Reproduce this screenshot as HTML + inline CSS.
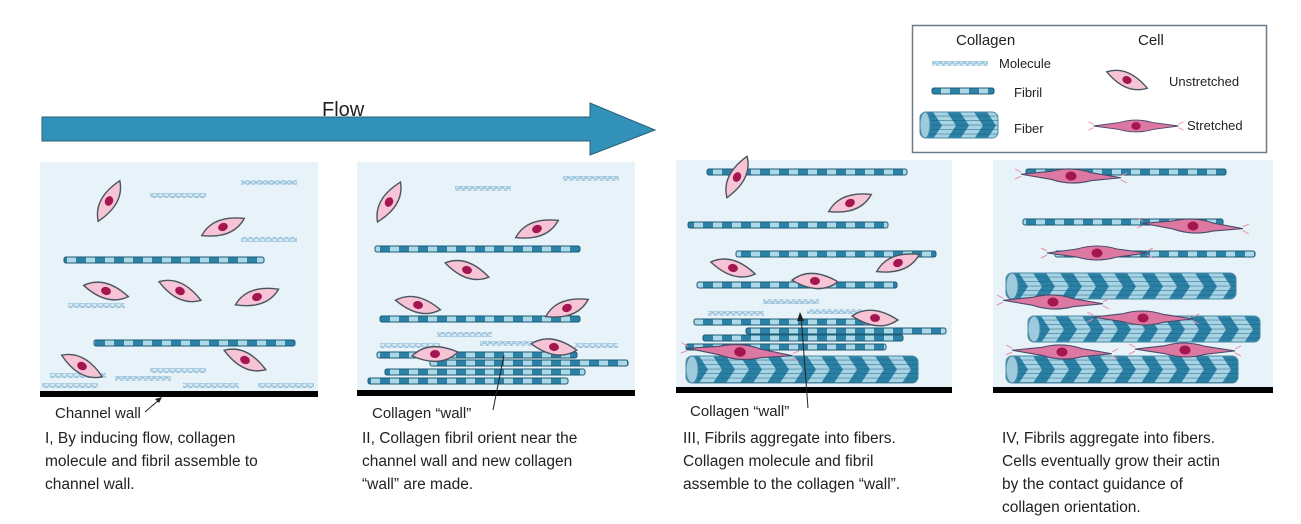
<!DOCTYPE html>
<html><head><meta charset="utf-8"><style>
html,body{margin:0;padding:0;background:#fff}
svg{display:block}
text{font-family:"Liberation Sans",Arial,sans-serif;fill:#222}
</style></head><body>
<svg width="1301" height="524" viewBox="0 0 1301 524" xmlns="http://www.w3.org/2000/svg">
<defs>
<pattern id="fib" patternUnits="userSpaceOnUse" width="19" height="10">
<rect x="0" y="0" width="10" height="10" fill="#2b82a6"/><rect x="10" y="0" width="9" height="10" fill="#acd8e8"/>
</pattern>
<pattern id="mol" patternUnits="userSpaceOnUse" width="6" height="5">
<rect width="6" height="5" fill="#d6e9f3"/>
<path d="M0,1.5 Q1.5,0 3,1.5 T6,1.5 M0,3.5 Q1.5,5 3,3.5 T6,3.5" stroke="#8ab9d6" stroke-width="0.9" fill="none"/>
</pattern>
<pattern id="fibp" patternUnits="userSpaceOnUse" width="27" height="27">
<rect width="27" height="27" fill="#a8d5e6"/>
<polygon points="0,0 13,0 22,13.5 13,27 0,27 9,13.5" fill="#2a80a5"/>
</pattern>
<pattern id="fibl" patternUnits="userSpaceOnUse" width="10" height="4.5">
<rect y="3.6" width="10" height="0.9" fill="#1e5f7c" opacity="0.55"/>
</pattern>
<symbol id="cell" overflow="visible">
<path d="M-23,0 Q-5,-15 23,0 Q5,15 -23,0Z" fill="#f7c4d6" stroke="#4b5560" stroke-width="1.4"/>
<ellipse cx="0" cy="0" rx="5" ry="4" fill="#a3164f"/>
</symbol>
<symbol id="scell" overflow="visible">
<path d="M-50,-2 L-56,-5 M-50,2 L-56,5 M50,-2 L56,-5 M50,2 L56,5" stroke="#e88fb0" stroke-width="1"/>
<path d="M-50,0 L-20,-4 Q0,-10 20,-4 L50,0 L20,4 Q0,10 -20,4 Z" fill="#dc78a2" stroke="#4a4a6a" stroke-width="1.1"/>
<ellipse cx="0" cy="0" rx="5.5" ry="4.5" fill="#a3164f"/>
</symbol>
</defs>

<!-- legend -->
<rect x="912.5" y="25.5" width="354" height="127" fill="#fff" stroke="#6c7d88" stroke-width="1.5"/>
<text x="956" y="45" font-size="15">Collagen</text>
<text x="1138" y="45" font-size="15">Cell</text>
<rect x="932" y="61" width="56" height="5" fill="url(#mol)"/>
<text x="999" y="68" font-size="13">Molecule</text>
<rect x="932" y="88" width="62" height="6" fill="url(#fib)" stroke="#1d5a74" stroke-width="1" rx="2"/>
<text x="1014" y="97" font-size="13">Fibril</text>
<g transform="translate(920,112)"><rect width="78" height="26" rx="6" fill="url(#fibp)" stroke="#4a8aa5"/><rect width="78" height="26" rx="6" fill="url(#fibl)"/><ellipse cx="5" cy="13" rx="5" ry="13" fill="#9dcadc" stroke="#4a8aa5"/></g>
<text x="1014" y="133" font-size="13">Fiber</text>
<use href="#cell" transform="translate(1127,80) rotate(22) scale(0.95)"/>
<text x="1169" y="86" font-size="13">Unstretched</text>
<use href="#scell" transform="translate(1136,126) scale(0.85)"/>
<text x="1187" y="130" font-size="13">Stretched</text>

<!-- flow arrow -->
<text x="322" y="116" font-size="20">Flow</text>
<path d="M42,117 L590,117 L590,103 L655,130 L590,155 L590,141 L42,141 Z" fill="#3191b8" stroke="#2a5f78" stroke-width="1"/>

<!-- panels backgrounds -->
<rect x="40" y="162" width="278" height="230" fill="#e7f3f8"/>
<rect x="357" y="162" width="278" height="230" fill="#e7f3f8"/>
<rect x="676" y="160" width="276" height="232" fill="#e7f3f8"/>
<rect x="993" y="160" width="280" height="232" fill="#e7f3f8"/>
<rect x="40" y="391" width="278" height="6" fill="#000"/>
<rect x="357" y="390" width="278" height="6" fill="#000"/>
<rect x="676" y="387" width="276" height="6" fill="#000"/>
<rect x="993" y="387" width="280" height="6" fill="#000"/>

<!-- panel I -->
<g fill="url(#mol)">
<rect x="241" y="180" width="56" height="5"/><rect x="150" y="193" width="56" height="5"/><rect x="241" y="237" width="56" height="5"/>
<rect x="68" y="303" width="57" height="5"/><rect x="50" y="373" width="56" height="5"/><rect x="115" y="376" width="56" height="5"/>
<rect x="150" y="368" width="56" height="5"/><rect x="42" y="383" width="56" height="5"/><rect x="183" y="383" width="56" height="5"/><rect x="258" y="383" width="56" height="5"/>
</g>
<g fill="url(#fib)" stroke="#1d5a74" stroke-width="1">
<rect x="64" y="257" width="200" height="6" rx="2"/><rect x="94" y="340" width="201" height="6" rx="2"/>
</g>
<use href="#cell" transform="translate(109,201) rotate(-62)"/>
<use href="#cell" transform="translate(223,227) rotate(-22)"/>
<use href="#cell" transform="translate(106,291) rotate(14)"/>
<use href="#cell" transform="translate(180,291) rotate(24)"/>
<use href="#cell" transform="translate(257,297) rotate(-20)"/>
<use href="#cell" transform="translate(82,366) rotate(28)"/>
<use href="#cell" transform="translate(245,360) rotate(25)"/>
<text x="55" y="418" font-size="15">Channel wall</text>
<line x1="145" y1="412" x2="160" y2="399" stroke="#222" stroke-width="1"/><path d="M162,397 L155,399 L159,403Z" fill="#222"/>
<text x="45" y="443" font-size="15.5">I, By inducing flow, collagen</text>
<text x="45" y="466" font-size="15.5">molecule and fibril assemble to</text>
<text x="45" y="489" font-size="15.5">channel wall.</text>

<!-- panel II -->
<g fill="url(#mol)">
<rect x="455" y="186" width="56" height="5"/><rect x="563" y="176" width="56" height="5"/>
<rect x="437" y="332" width="55" height="5"/><rect x="380" y="343" width="60" height="5"/><rect x="480" y="341" width="68" height="5"/><rect x="575" y="343" width="43" height="5"/>
</g>
<g fill="url(#fib)" stroke="#1d5a74" stroke-width="1">
<rect x="375" y="246" width="205" height="6" rx="2"/><rect x="380" y="316" width="200" height="6" rx="2"/>
<rect x="377" y="352" width="200" height="6" rx="2"/><rect x="430" y="360" width="198" height="6" rx="2"/>
<rect x="385" y="369" width="200" height="6" rx="2"/><rect x="368" y="378" width="200" height="6" rx="2"/>
</g>
<use href="#cell" transform="translate(389,202) rotate(-60)"/>
<use href="#cell" transform="translate(537,229) rotate(-22)"/>
<use href="#cell" transform="translate(467,270) rotate(18)"/>
<use href="#cell" transform="translate(418,305) rotate(12)"/>
<use href="#cell" transform="translate(567,308) rotate(-22)"/>
<use href="#cell" transform="translate(435,354) rotate(-5)"/>
<use href="#cell" transform="translate(554,347) rotate(8)"/>
<line x1="504" y1="355" x2="493" y2="410" stroke="#222" stroke-width="1"/>
<text x="372" y="418" font-size="15">Collagen “wall”</text>
<text x="362" y="443" font-size="15.5">II, Collagen fibril orient near the</text>
<text x="362" y="466" font-size="15.5">channel wall and new collagen</text>
<text x="362" y="489" font-size="15.5">“wall” are made.</text>

<!-- panel III -->
<g fill="url(#fib)" stroke="#1d5a74" stroke-width="1">
<rect x="707" y="169" width="200" height="6" rx="2"/><rect x="688" y="222" width="200" height="6" rx="2"/>
<rect x="736" y="251" width="200" height="6" rx="2"/><rect x="697" y="282" width="200" height="6" rx="2"/>
<rect x="694" y="319" width="190" height="6" rx="2"/><rect x="746" y="328" width="200" height="6" rx="2"/>
<rect x="703" y="335" width="200" height="6" rx="2"/><rect x="686" y="344" width="200" height="6" rx="2"/>
</g>
<g fill="url(#mol)">
<rect x="763" y="299" width="56" height="5"/><rect x="708" y="311" width="56" height="5"/><rect x="807" y="309" width="55" height="5"/>
</g>
<g transform="translate(686,356)"><rect width="232" height="27" rx="6" fill="url(#fibp)" stroke="#4a8aa5"/><rect width="232" height="27" rx="6" fill="url(#fibl)"/><ellipse cx="6" cy="13.5" rx="6" ry="13.5" fill="#9dcadc" stroke="#4a8aa5"/></g>
<use href="#cell" transform="translate(737,177) rotate(-64)"/>
<use href="#cell" transform="translate(850,203) rotate(-22)"/>
<use href="#cell" transform="translate(733,268) rotate(15)"/>
<use href="#cell" transform="translate(898,263) rotate(-22)"/>
<use href="#cell" transform="translate(815,281) rotate(2)"/>
<use href="#cell" transform="translate(875,318) rotate(5)"/>
<use href="#scell" transform="translate(740,352) rotate(4) scale(1.05)"/>
<line x1="801" y1="316" x2="808" y2="408" stroke="#222" stroke-width="1"/><path d="M800,312 L797,321 L804,321Z" fill="#222"/>
<text x="690" y="416" font-size="15">Collagen “wall”</text>
<text x="683" y="443" font-size="15.5">III, Fibrils aggregate into fibers.</text>
<text x="683" y="466" font-size="15.5">Collagen molecule and fibril</text>
<text x="683" y="489" font-size="15.5">assemble to the collagen “wall”.</text>

<!-- panel IV -->
<g fill="url(#fib)" stroke="#1d5a74" stroke-width="1">
<rect x="1026" y="169" width="200" height="6" rx="2"/><rect x="1023" y="219" width="200" height="6" rx="2"/><rect x="1055" y="251" width="200" height="6" rx="2"/>
</g>
<g transform="translate(1006,273)"><rect width="230" height="26" rx="6" fill="url(#fibp)" stroke="#4a8aa5"/><rect width="230" height="26" rx="6" fill="url(#fibl)"/><ellipse cx="6" cy="13" rx="6" ry="13" fill="#9dcadc" stroke="#4a8aa5"/></g>
<g transform="translate(1028,316)"><rect width="232" height="26" rx="6" fill="url(#fibp)" stroke="#4a8aa5"/><rect width="232" height="26" rx="6" fill="url(#fibl)"/><ellipse cx="6" cy="13" rx="6" ry="13" fill="#9dcadc" stroke="#4a8aa5"/></g>
<g transform="translate(1006,356)"><rect width="232" height="27" rx="6" fill="url(#fibp)" stroke="#4a8aa5"/><rect width="232" height="27" rx="6" fill="url(#fibl)"/><ellipse cx="6" cy="13.5" rx="6" ry="13.5" fill="#9dcadc" stroke="#4a8aa5"/></g>
<use href="#scell" transform="translate(1071,176) rotate(2)"/>
<use href="#scell" transform="translate(1193,226) rotate(3)"/>
<use href="#scell" transform="translate(1097,253)"/>
<use href="#scell" transform="translate(1053,302) rotate(2)"/>
<use href="#scell" transform="translate(1143,318) rotate(1)"/>
<use href="#scell" transform="translate(1062,352) rotate(2)"/>
<use href="#scell" transform="translate(1185,350) rotate(1)"/>
<text x="1002" y="443" font-size="15.5">IV, Fibrils aggregate into fibers.</text>
<text x="1002" y="466" font-size="15.5">Cells eventually grow their actin</text>
<text x="1002" y="489" font-size="15.5">by the contact guidance of</text>
<text x="1002" y="512" font-size="15.5">collagen orientation.</text>
</svg>
</body></html>
